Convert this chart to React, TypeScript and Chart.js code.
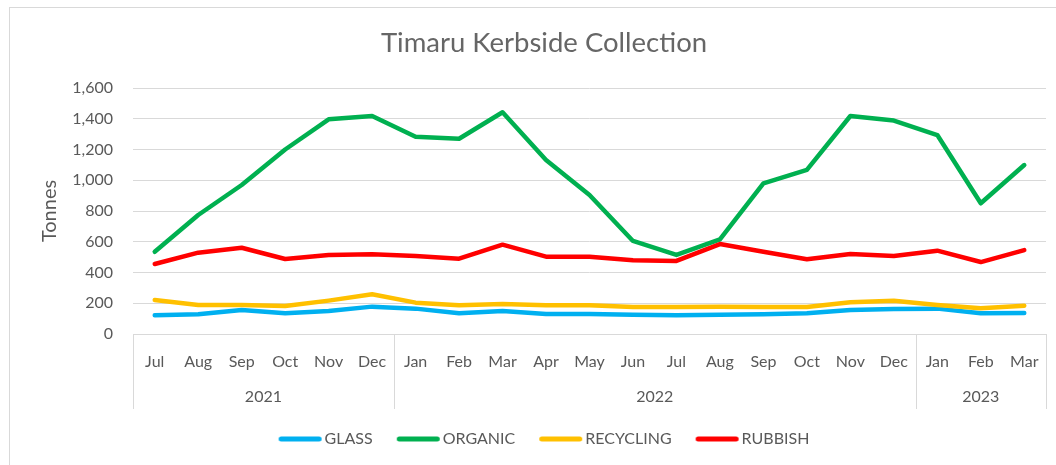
import React, { useEffect, useRef } from 'react';
import { Chart, registerables } from 'chart.js';

Chart.register(...registerables);

// ---- Data ----
const months = ['Jul', 'Aug', 'Sep', 'Oct', 'Nov', 'Dec', 'Jan', 'Feb', 'Mar', 'Apr', 'May', 'Jun', 'Jul', 'Aug', 'Sep', 'Oct', 'Nov', 'Dec', 'Jan', 'Feb', 'Mar'];
const years = ['2021', '2022', '2023'];
const yearMonthCounts = [6, 12, 3];

const glass = [122, 128, 156, 135, 150, 178, 165, 135, 150, 130, 130, 126, 122, 126, 128, 135, 156, 163, 165, 135, 137];
const organic = [535, 774, 969, 1200, 1396, 1418, 1283, 1270, 1442, 1132, 904, 605, 514, 616, 980, 1067, 1418, 1388, 1294, 850, 1099];
const recycling = [221, 189, 189, 182, 217, 258, 204, 187, 195, 187, 187, 176, 176, 178, 176, 176, 206, 217, 189, 167, 184];
const rubbish = [455, 529, 561, 488, 514, 518, 507, 490, 581, 503, 503, 479, 475, 585, 535, 486, 520, 507, 542, 468, 546];

const yTicks = [0, 200, 400, 600, 800, 1000, 1200, 1400, 1600];

const FONT = 'Lato';
const TEXT = '#595959';
const GRID = '#d9d9d9';

const CANVAS_W = 1088;
const CANVAS_H = 465;
const X_AXIS_H = 73;
const LEGEND_FONT = 16;
const LEGEND_PAD = 24;
const LEGEND_BOX = 38;
const CHART_BOTTOM = 334;
const LEGEND_H = LEGEND_FONT + LEGEND_PAD + 10;
const BOTTOM_PAD = CANVAS_H - CHART_BOTTOM - X_AXIS_H - LEGEND_H;

// legend swatch: a short thick line, drawn into a small canvas
function makeSwatch(color: string) {
  const c = document.createElement('canvas');
  c.width = 50;
  c.height = 10;
  const g = c.getContext('2d')!;
  g.strokeStyle = color;
  g.lineWidth = 5;
  g.lineCap = 'round';
  g.beginPath();
  g.moveTo(8.5, 5);
  g.lineTo(46.5, 5);
  g.stroke();
  return c;
}

const framePlugin = {
  id: 'frame',
  beforeDraw(chart: any) {
    const ctx = chart.ctx;
    ctx.save();
    ctx.fillStyle = '#ffffff';
    ctx.fillRect(0, 0, chart.width, chart.height);
    ctx.strokeStyle = GRID;
    ctx.lineWidth = 1;
    ctx.strokeRect(9.5, 7.5, chart.width + 20, chart.height + 20);
    ctx.restore();
  },
  afterDraw(chart: any) {
    const x = chart.scales.x;
    const ctx = chart.ctx;
    const band = x.getPixelForValue(1) - x.getPixelForValue(0);
    const bounds = [0];
    let acc = 0;
    yearMonthCounts.forEach((c) => {
      acc += c;
      bounds.push(acc);
    });
    ctx.save();
    ctx.strokeStyle = GRID;
    ctx.lineWidth = 1;
    bounds.forEach((b) => {
      const px = Math.round(x.getPixelForValue(b) - band / 2) + 0.5;
      ctx.beginPath();
      ctx.moveTo(px, x.top);
      ctx.lineTo(px, x.top + 75);
      ctx.stroke();
    });
    ctx.fillStyle = TEXT;
    ctx.font = `16px ${FONT}`;
    ctx.textAlign = 'center';
    ctx.textBaseline = 'middle';
    years.forEach((yr, i) => {
      const a = x.getPixelForValue(bounds[i]) - band / 2;
      const b = x.getPixelForValue(bounds[i + 1]) - band / 2;
      ctx.fillText(yr, (a + b) / 2, x.top + 63);
    });
    ctx.restore();
  },
};

function ds(label: string, data: number[], color: string, order: number) {
  return {
    label,
    data,
    borderColor: color,
    backgroundColor: color,
    borderWidth: 4.5,
    pointRadius: 0,
    pointHoverRadius: 0,
    pointStyle: makeSwatch(color),
    tension: 0,
    borderJoinStyle: 'round' as const,
    borderCapStyle: 'round' as const,
    fill: false,
    order,
  };
}

export default function App() {
  const ref = useRef<HTMLCanvasElement>(null);
  useEffect(() => {
    const canvas = ref.current!;
    const chart = new Chart(canvas, {
      type: 'line',
      data: {
        labels: months,
        datasets: [
          ds('GLASS', glass, '#00B0F0', 4),
          ds('ORGANIC', organic, '#00B050', 3),
          ds('RECYCLING', recycling, '#FFC000', 2),
          ds('RUBBISH', rubbish, '#FF0000', 1),
        ],
      },
      options: {
        responsive: false,
        animation: false,
        devicePixelRatio: 1,
        layout: { padding: { left: 0, right: 0, top: 0, bottom: BOTTOM_PAD } },
        plugins: {
          title: {
            display: true,
            text: 'Timaru Kerbside Collection',
            color: '#666666',
            font: { family: FONT, size: 27.5, weight: 'normal' },
            padding: { top: 27, bottom: 28 },
          },
          legend: {
            position: 'bottom',
            labels: {
              usePointStyle: true,
              pointStyleWidth: LEGEND_BOX,
              padding: LEGEND_PAD,
              color: TEXT,
              font: { family: FONT, size: LEGEND_FONT },
              sort: (a: any, b: any) => a.datasetIndex - b.datasetIndex,
            },
          },
          tooltip: { enabled: false },
        },
        scales: {
          x: {
            offset: true,
            grid: { display: false, drawTicks: false },
            border: { display: true, color: GRID },
            ticks: {
              color: TEXT,
              font: { family: FONT, size: 16 },
              padding: 18,
              maxRotation: 0,
              autoSkip: false,
            },
            afterFit: (s: any) => {
              s.height = X_AXIS_H;
            },
          },
          y: {
            min: 0,
            max: 1600,
            afterBuildTicks: (s: any) => {
              s.ticks = yTicks.map((v) => ({ value: v }));
            },
            ticks: {
              color: TEXT,
              font: { family: FONT, size: 16 },
              padding: 20,
              callback: (v: any) => Number(v).toLocaleString('en-US'),
            },
            grid: { color: GRID, drawTicks: false },
            border: { display: false },
            title: {
              display: true,
              text: 'Tonnes',
              color: TEXT,
              font: { family: FONT, size: 20 },
              padding: { top: 38, bottom: 0 },
            },
            afterFit: (s: any) => {
              s.width = 133;
            },
          },
          y2: {
            position: 'right',
            display: true,
            grid: { display: false, drawTicks: false },
            border: { display: false },
            ticks: { display: false },
            afterFit: (s: any) => {
              s.width = CANVAS_W - 1046;
            },
          },
        },
      },
      plugins: [framePlugin],
    } as any);
    return () => chart.destroy();
  }, []);

  return (
    <div style={{ position: 'fixed', left: 0, top: 0, width: 1056, height: 465, overflow: 'hidden', background: '#fff' }}>
      <canvas ref={ref} width={CANVAS_W} height={CANVAS_H} style={{ display: 'block' }} />
    </div>
  );
}
